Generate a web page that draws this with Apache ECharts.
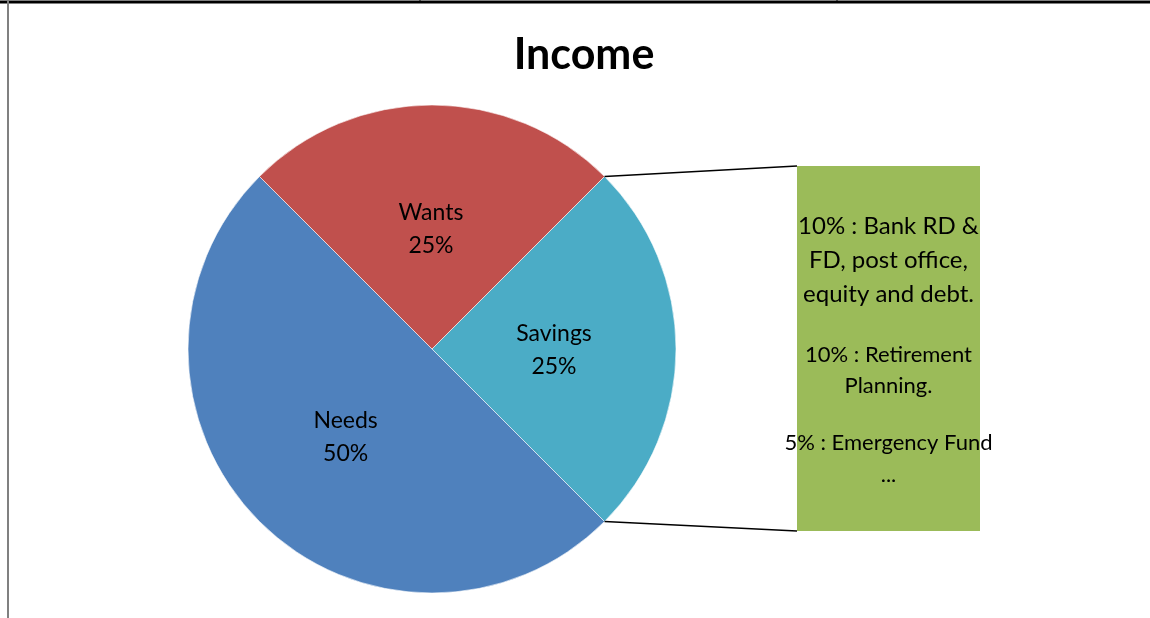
<!DOCTYPE html>
<html>
<head>
<meta charset="utf-8">
<script src="https://cdn.jsdelivr.net/npm/echarts@6/dist/echarts.min.js"></script>
<style>html,body{margin:0;padding:0;background:#fff;}#c{width:1150px;height:618px;}</style>
</head>
<body>
<div id="c"></div>
<script>
const categories = ['Savings', 'Needs', 'Wants'];
const values = [25, 50, 25];
const colors = ['#4BACC6', '#4F81BD', '#C0504D'];
const titleText = 'Income';
const boxPara1 = ['10% : Bank RD &', 'FD, post office,', 'equity and debt.'];
const boxPara2 = ['10% : Retirement', 'Planning.'];
const boxPara3 = ['5% : Emergency Fund', '...'];

const FONT = 'Lato, "Open Sans", sans-serif';
const cx = 432, cy = 349, R = 244;
const startAngle = 45;
const total = values.reduce((a, b) => a + b, 0);
const endAngle = startAngle - values[0] / total * 360;
const rad = d => d * Math.PI / 180;
const p1 = [cx + R * Math.cos(rad(startAngle)), cy - R * Math.sin(rad(startAngle))];
const p2 = [cx + R * Math.cos(rad(endAngle)), cy - R * Math.sin(rad(endAngle))];

const box = {x: 797, y: 166, w: 183, h: 365};

const textEls = [];
function addPara(lines, y0, lh, fs) {
  lines.forEach((t, i) => {
    textEls.push({
      type: 'text', x: box.x + box.w / 2, y: y0 + i * lh,
      style: {text: t, x: 0, y: 0, fill: '#000', font: fs + 'px ' + FONT, textAlign: 'center', textVerticalAlign: 'middle'},
      z: 20
    });
  });
}
addPara(boxPara1, 226, 34, 24);
addPara(boxPara2, 355, 31, 22);
addPara(boxPara3, 443, 32, 22);

const labelOffsets = {Wants: [-1, 5], Savings: [-3, 1], Needs: [2, 0]};

const chart = echarts.init(document.getElementById('c'));
chart.setOption({
  backgroundColor: '#fff',
  animation: false,
  series: [{
    type: 'pie',
    center: [cx, cy],
    radius: R,
    startAngle: startAngle,
    clockwise: true,
    silent: true,
    itemStyle: {borderColor: '#fff', borderWidth: 0.6},
    label: {
      show: true, position: 'inside',
      formatter: p => p.name + '\n' + p.value + '%',
      fontFamily: FONT, fontSize: 23, lineHeight: 33, color: '#000'
    },
    labelLine: {show: false},
    data: categories.map((c, i) => ({
      name: c, value: values[i], itemStyle: {color: colors[i]},
      label: {offset: labelOffsets[c]}
    }))
  }],
  graphic: [
    {type: 'text', x: 584, y: 55, style: {text: titleText, x: 0, y: 0, fill: '#000', font: 'bold 43px ' + FONT, textAlign: 'center', textVerticalAlign: 'middle'}, z: 20},
    {type: 'line', shape: {x1: 0, y1: 2, x2: 1150, y2: 2}, style: {stroke: '#000', lineWidth: 3}, z: 10},
    {type: 'line', shape: {x1: 420, y1: 0, x2: 420, y2: 3}, style: {stroke: '#000', lineWidth: 1}, z: 10},
    {type: 'line', shape: {x1: 837, y1: 0, x2: 837, y2: 3}, style: {stroke: '#000', lineWidth: 1}, z: 10},
    {type: 'line', shape: {x1: 8, y1: 0, x2: 8, y2: 618}, style: {stroke: '#808080', lineWidth: 2}, z: 10},
    {type: 'rect', shape: {x: box.x, y: box.y, width: box.w, height: box.h}, style: {fill: '#9BBB59'}, z: 5},
    {type: 'line', shape: {x1: p1[0], y1: p1[1], x2: box.x, y2: box.y}, style: {stroke: '#000', lineWidth: 1.5}, z: 10},
    {type: 'line', shape: {x1: p2[0], y1: p2[1], x2: box.x, y2: box.y + box.h}, style: {stroke: '#000', lineWidth: 1.5}, z: 10}
  ].concat(textEls)
});
</script>
</body>
</html>
